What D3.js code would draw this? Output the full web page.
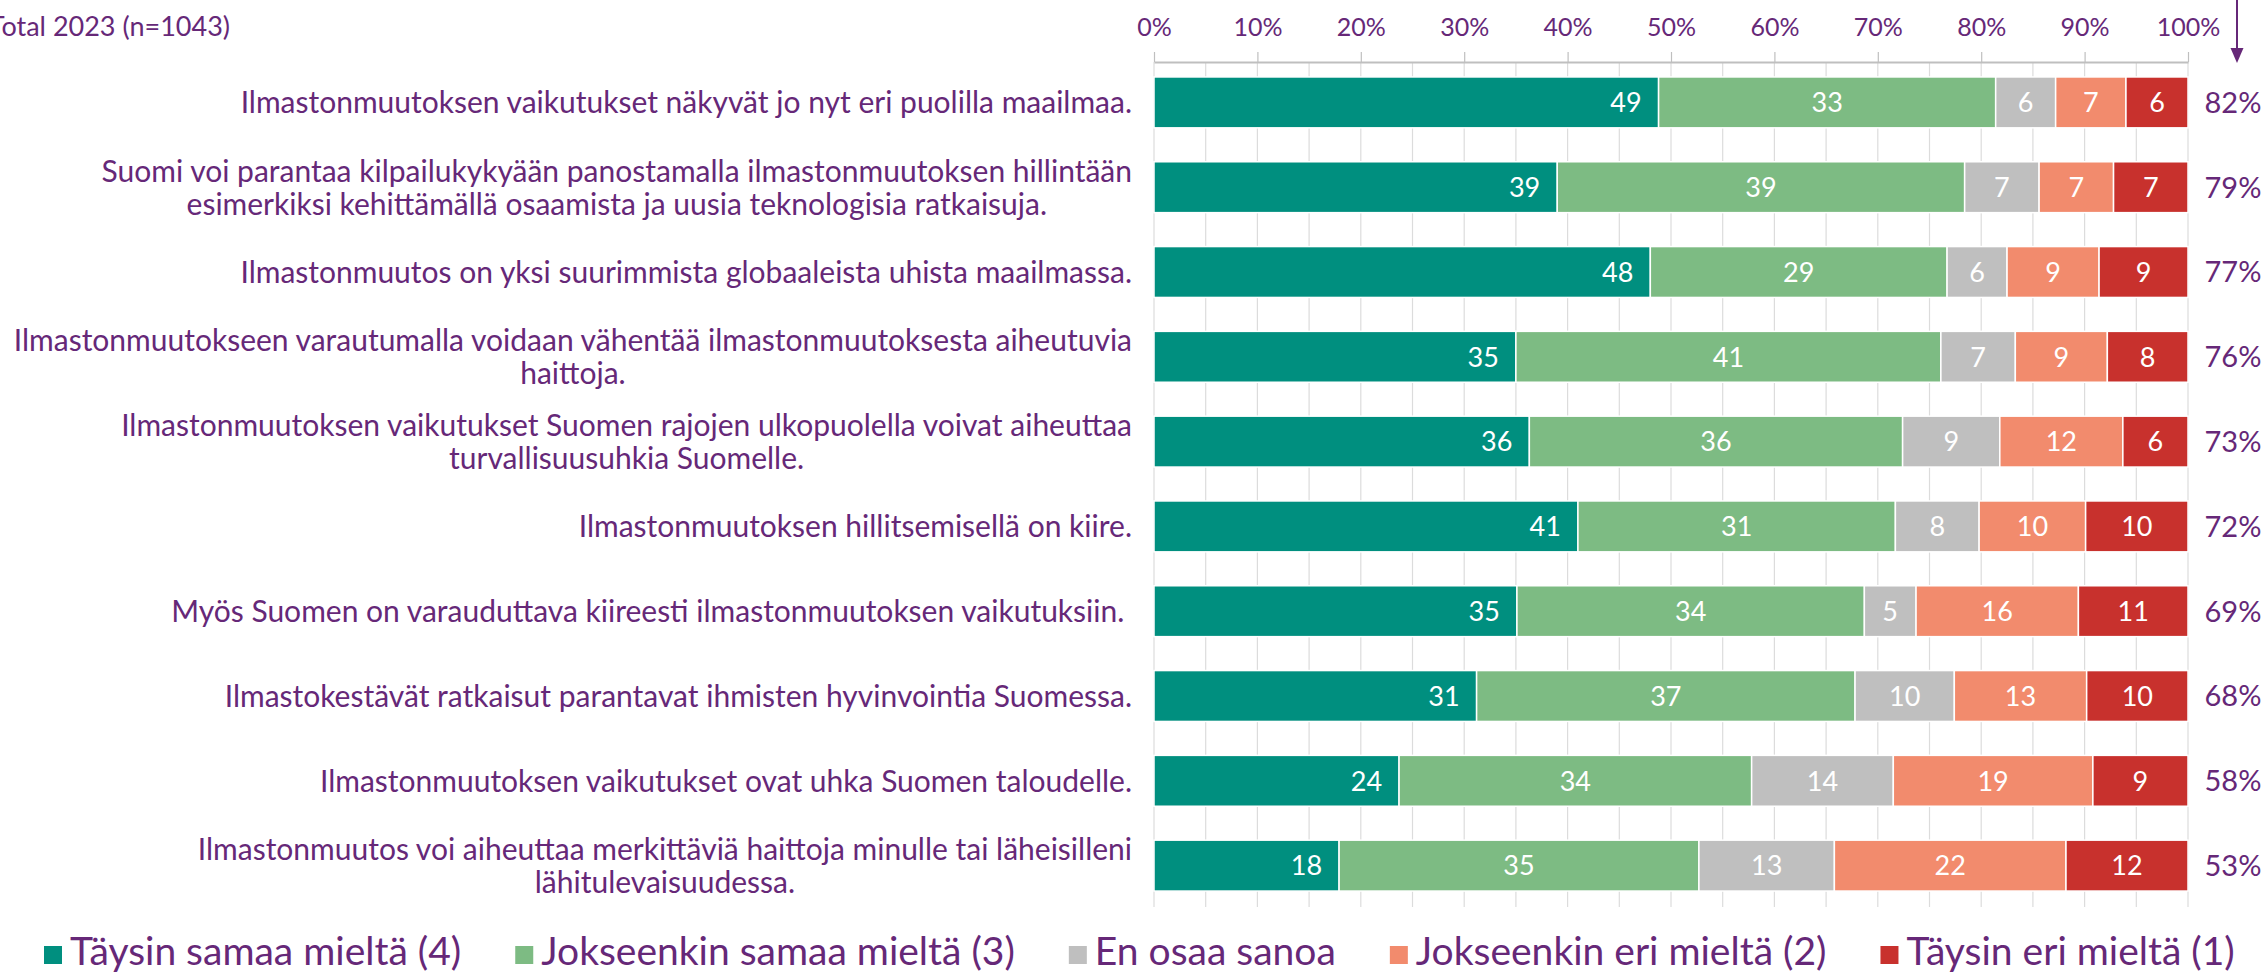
<!DOCTYPE html>
<html><head><meta charset="utf-8">
<script src="https://cdn.jsdelivr.net/npm/d3@7"></script>
<style>body{margin:0;background:#fff} svg{display:block} text{font-family:Lato,'Open Sans',sans-serif}</style>
</head><body>
<svg id="chart" width="2267" height="974"></svg>
<script>
const title = "Total 2023 (n=1043)";
const categories = [
  ["Ilmastonmuutoksen vaikutukset näkyvät jo nyt eri puolilla maailmaa."],
  ["Suomi voi parantaa kilpailukykyään panostamalla ilmastonmuutoksen hillintään", "esimerkiksi kehittämällä osaamista ja uusia teknologisia ratkaisuja."],
  ["Ilmastonmuutos on yksi suurimmista globaaleista uhista maailmassa."],
  ["Ilmastonmuutokseen varautumalla voidaan vähentää ilmastonmuutoksesta aiheutuvia", "haittoja."],
  ["Ilmastonmuutoksen vaikutukset Suomen rajojen ulkopuolella voivat aiheuttaa", "turvallisuusuhkia Suomelle."],
  ["Ilmastonmuutoksen hillitsemisellä on kiire."],
  ["Myös Suomen on varauduttava kiireesti ilmastonmuutoksen vaikutuksiin. "],
  ["Ilmastokestävät ratkaisut parantavat ihmisten hyvinvointia Suomessa."],
  ["Ilmastonmuutoksen vaikutukset ovat uhka Suomen taloudelle."],
  ["Ilmastonmuutos voi aiheuttaa merkittäviä haittoja minulle tai läheisilleni", "lähitulevaisuudessa."]
];
const seriesNames = ["Täysin samaa mieltä (4)", "Jokseenkin samaa mieltä (3)", "En osaa sanoa", "Jokseenkin eri mieltä (2)", "Täysin eri mieltä (1)"];
const seriesColors = ["#008f7f", "#7dbb83", "#bfbfbf", "#f28b6d", "#c8312d"];
const taysinSamaa     = [48.8, 39.0, 48.0, 35.0, 36.3, 41.0, 35.1, 31.2, 23.7, 17.9];
const jokseenkinSamaa = [32.6, 39.4, 28.7, 41.1, 36.1, 30.7, 33.6, 36.6, 34.1, 34.8];
const enOsaaSanoa     = [5.8, 7.2, 5.8, 7.2, 9.4, 8.1, 5.0, 9.6, 13.7, 13.1];
const jokseenkinEri   = [6.8, 7.2, 8.9, 8.9, 11.9, 10.3, 15.7, 12.8, 19.3, 22.4];
const taysinEri       = [6.0, 7.2, 8.6, 7.8, 6.3, 9.9, 10.6, 9.8, 9.2, 11.8];
const totals = [82, 79, 77, 76, 73, 72, 69, 68, 58, 53];
const tickValues = [0, 10, 20, 30, 40, 50, 60, 70, 80, 90, 100];
const tickLabels = ["0%", "10%", "20%", "30%", "40%", "50%", "60%", "70%", "80%", "90%", "100%"];

const purple = "#662878";
const series = [taysinSamaa, jokseenkinSamaa, enOsaaSanoa, jokseenkinEri, taysinEri];
const keys = seriesNames;
const table = categories.map((c, i) => {
  const o = {idx: i};
  keys.forEach((k, j) => o[k] = series[j][i]);
  return o;
});
const stacked = d3.stack().keys(keys)(table);

const svg = d3.select("#chart");
const x = d3.scaleLinear().domain([0, 100]).range([1154, 2188]);
const y = d3.scaleBand().domain(d3.range(categories.length)).range([60, 908]).paddingInner(0.4).paddingOuter(0.2);
const axisY = 62;

// gridlines
svg.append("g").selectAll("line").data(d3.range(0, 101, 5)).join("line")
  .attr("x1", d => x(d)).attr("x2", d => x(d))
  .attr("y1", axisY).attr("y2", 907)
  .attr("stroke", "#dcdcdc").attr("stroke-width", 1.2);

// axis
const axis = d3.axisTop(x).tickValues(tickValues).tickFormat((d, i) => tickLabels[i])
  .tickSize(10).tickSizeOuter(0).tickPadding(16);
const ag = svg.append("g").attr("transform", `translate(0,${axisY})`).call(axis);
ag.select(".domain").attr("stroke", "#bfbfbf").attr("stroke-width", 2);
ag.selectAll(".tick line").attr("stroke", "#bfbfbf").attr("stroke-width", 1.2);
ag.selectAll(".tick text").attr("fill", purple).style("font-size", "25px").style("font-family", "Lato,'Open Sans',sans-serif");

// bars
const groups = svg.append("g").selectAll("g").data(stacked).join("g")
  .attr("fill", (d, i) => seriesColors[i]);
groups.selectAll("rect").data(d => d).join("rect")
  .attr("x", d => x(d[0])).attr("width", d => x(d[1]) - x(d[0]))
  .attr("y", d => y(d.data.idx)).attr("height", y.bandwidth())
  .attr("stroke", "#fff").attr("stroke-width", 1.5);

// value labels
const fmt = d3.format(".0f");
stacked.forEach((s, si) => {
  svg.append("g").selectAll("text").data(s).join("text")
    .attr("x", d => si === 0 ? x(d[1]) - 17 : (x(d[0]) + x(d[1])) / 2)
    .attr("y", d => y(d.data.idx) + y.bandwidth() / 2)
    .attr("dy", "0.36em")
    .attr("text-anchor", si === 0 ? "end" : "middle")
    .attr("fill", "#fff").style("font-size", "27px")
    .text(d => fmt(d[1] - d[0]));
});

// totals
svg.append("g").selectAll("text").data(totals).join("text")
  .attr("x", 2233).attr("y", (d, i) => y(i) + y.bandwidth() / 2)
  .attr("dy", "0.36em").attr("text-anchor", "middle")
  .attr("fill", purple).style("font-size", "29px")
  .text(d => d + "%");

// category labels
const labelRight = 1132, lineH = 33;
categories.forEach((lines, i) => {
  const g = svg.append("g");
  const cy = y(i) + y.bandwidth() / 2;
  const texts = lines.map((ln, k) => g.append("text")
    .attr("y", cy + (k - (lines.length - 1) / 2) * lineH)
    .attr("dy", "0.36em").attr("text-anchor", "middle")
    .attr("fill", purple).style("font-size", "30px").style("white-space", "pre")
    .text(ln));
  const widths = texts.map(t => t.node().getComputedTextLength());
  const w = d3.max(widths);
  texts.forEach(t => t.attr("x", labelRight - w / 2));
});

// title
svg.append("text").attr("x", 230).attr("y", 36).attr("text-anchor", "end")
  .attr("fill", purple).style("font-size", "27px").text(title);

// arrow
svg.append("line").attr("x1", 2237).attr("x2", 2237).attr("y1", 0).attr("y2", 50)
  .attr("stroke", purple).attr("stroke-width", 2);
svg.append("path").attr("d", "M2230.5,48 L2243.5,48 L2237,63 Z").attr("fill", purple);

// legend
const lg = svg.append("g");
let lx = 44;
const ly = 964;
seriesNames.forEach((n, i) => {
  lg.append("rect").attr("x", lx).attr("y", ly - 18).attr("width", 18).attr("height", 18).attr("fill", seriesColors[i]);
  const t = lg.append("text").attr("x", lx + 26).attr("y", ly + 1).attr("fill", purple)
    .style("font-size", "39px").text(n);
  lx += 26 + t.node().getComputedTextLength() + 54;
});
</script>
</body></html>
